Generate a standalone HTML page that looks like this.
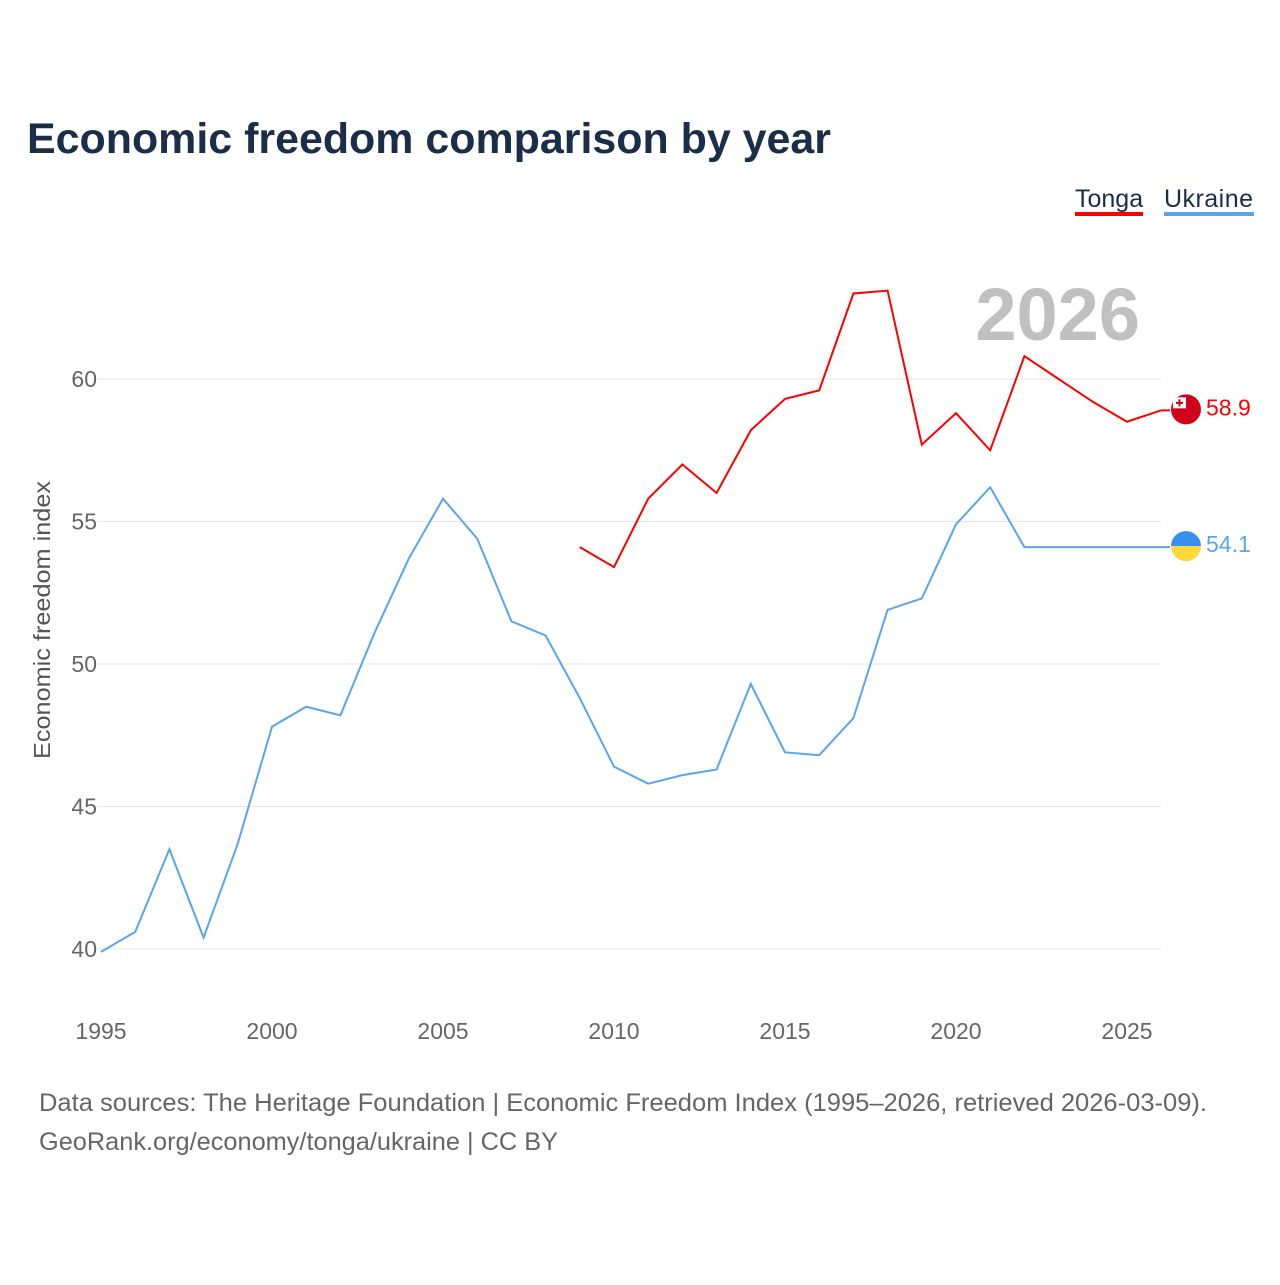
<!DOCTYPE html>
<html><head><meta charset="utf-8"><style>
body{margin:0;background:#fff;font-family:"Liberation Sans",sans-serif;}
</style></head><body>
<svg width="1280" height="1280" xmlns="http://www.w3.org/2000/svg">
<text x="27" y="153" font-size="43" font-weight="bold" fill="#1a2e4a" textLength="804" lengthAdjust="spacingAndGlyphs">Economic freedom comparison by year</text>
<g>
<text x="1075" y="207" font-size="25" fill="#1a2e4a">Tonga</text>
<rect x="1075" y="212" width="68" height="4" fill="#ff0000"/>
<text x="1164" y="207" font-size="25" fill="#1a2e4a" textLength="89">Ukraine</text>
<rect x="1164" y="212" width="90" height="4" fill="#5aa5ec"/>
</g>
<text x="1140" y="340" font-size="74" font-weight="bold" fill="#c0c0c0" text-anchor="end">2026</text>
<g id="grid"></g><g id="xt"></g><g id="lines"></g>
<text transform="translate(50,620) rotate(-90)" font-size="23" fill="#555" text-anchor="middle" textLength="278" lengthAdjust="spacingAndGlyphs">Economic freedom index</text>
<text x="39" y="1111" font-size="25" fill="#666" textLength="1168" lengthAdjust="spacingAndGlyphs">Data sources: The Heritage Foundation | Economic Freedom Index (1995–2026, retrieved 2026-03-09).</text>
<text x="39" y="1150" font-size="25" fill="#666" textLength="519" lengthAdjust="spacingAndGlyphs">GeoRank.org/economy/tonga/ukraine | CC BY</text>
</svg>
<script>
const yTicks=[40,45,50,55,60];
const xTicks=[1995,2000,2005,2010,2015,2020,2025];
const ukraineYears=[1995,1996,1997,1998,1999,2000,2001,2002,2003,2004,2005,2006,2007,2008,2009,2010,2011,2012,2013,2014,2015,2016,2017,2018,2019,2020,2021,2022,2023,2024,2025,2026];
const ukraineValues=[39.9,40.6,43.5,40.4,43.7,47.8,48.5,48.2,51.1,53.7,55.8,54.4,51.5,51.0,48.8,46.4,45.8,46.1,46.3,49.3,46.9,46.8,48.1,51.9,52.3,54.9,56.2,54.1,54.1,54.1,54.1,54.1];
const tongaYears=[2009,2010,2011,2012,2013,2014,2015,2016,2017,2018,2019,2020,2021,2022,2023,2024,2025,2026];
const tongaValues=[54.1,53.4,55.8,57.0,56.0,58.2,59.3,59.6,63.0,63.1,57.7,58.8,57.5,60.8,60.0,59.2,58.5,58.9];
const NS="http://www.w3.org/2000/svg";
const x=v=>101+(v-1995)*34.2;
const y=v=>949-(v-40)*28.5;
function mk(t,a,p){const e=document.createElementNS(NS,t);for(const k in a)e.setAttribute(k,a[k]);p.appendChild(e);return e;}
const g=document.getElementById('grid');
yTicks.forEach(t=>{
 const l=mk('line',{x1:97,x2:1161,y1:y(t),y2:y(t),stroke:'#e6e6e6','stroke-width':1},g);
 
 
 const tx=mk('text',{x:97,y:y(t)+8,'font-size':23,fill:'#666','text-anchor':'end'},g);tx.textContent=t;
 
 
});
const xg=document.getElementById('xt');
xTicks.forEach(t=>{
 const tx=mk('text',{x:x(t),y:1039,'font-size':23,fill:'#666','text-anchor':'middle'},xg);tx.textContent=t;
 
 
});
const lg=document.getElementById('lines');
function series(yrs,vals,col,name,flag){
 const d=yrs.map((yr,i)=>(i?'L':'M')+x(yr)+','+y(vals[i])).join(' ')+' L1170,'+y(vals[vals.length-1]);
 const p=mk('path',{d:d,fill:'none',stroke:col,'stroke-width':2},lg);
 
 
 const last=vals[vals.length-1],cy=y(last)-1;
 if(flag==='to'){
  const c=mk('circle',{cx:1186,cy:cy,r:15,fill:'#d0021b'},lg);
  
  
  mk('rect',{x:1173,y:cy-12,width:13,height:11,fill:'#fff'},lg);
  mk('path',{d:`M${1179.5},${cy-10}v7M${1176},${cy-6.5}h7`,stroke:'#d0021b','stroke-width':2},lg);
 }else{
  const c=mk('path',{d:`M1171,${cy}a15,15 0 0 1 30,0z`,fill:'#3a8ef0'},lg);
  
  
  mk('path',{d:`M1171,${cy}a15,15 0 0 0 30,0z`,fill:'#ffd83a'},lg);
 }
 const t=mk('text',{x:1206,y:cy+6,'font-size':23,fill:col},lg);t.textContent=last.toFixed(1);
 
 
}
series(ukraineYears,ukraineValues,'#5aa5ec','ukraine','ua');
series(tongaYears,tongaValues,'#ff0000','tonga','to');
</script>
</body></html>
